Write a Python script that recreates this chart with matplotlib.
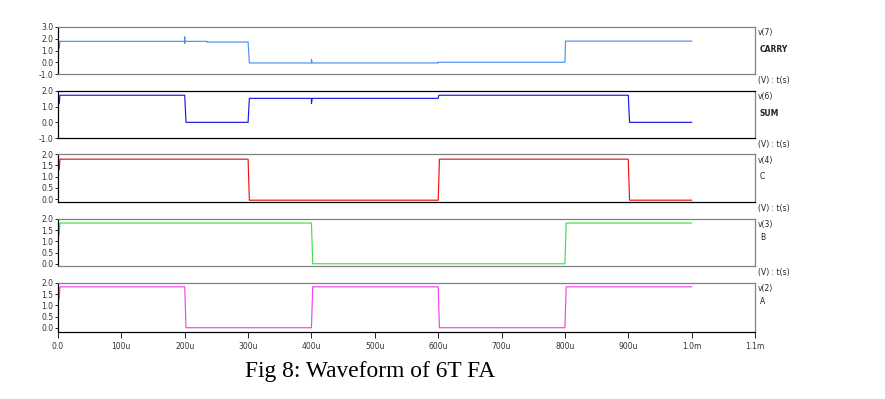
import matplotlib
matplotlib.use("Agg")
import matplotlib.pyplot as plt

# waveform vertices, time in microseconds, voltage in V
carry_t = [0, 0, 2, 3, 200, 200, 200, 200, 235, 235, 300, 302, 400, 400, 401, 600, 600, 800, 801, 1000]
carry_v = [0.0, 1.2, 1.2, 1.78, 1.78, 2.15, 1.6, 1.78, 1.78, 1.72, 1.72, -0.06, -0.06, 0.25, -0.06, -0.06, 0.0, 0.0, 1.8, 1.8]

sum_t = [0, 0, 2, 3, 200, 202, 300, 302, 400, 400, 401, 600, 601, 900, 902, 1000]
sum_v = [0.0, 1.2, 1.2, 1.73, 1.73, 0.0, 0.0, 1.53, 1.53, 1.2, 1.53, 1.53, 1.73, 1.73, 0.0, 0.0]

c_t = [0, 0, 2, 3, 300, 302, 600, 602, 900, 902, 1000]
c_v = [0.0, 1.3, 1.3, 1.77, 1.77, -0.05, -0.05, 1.77, 1.77, -0.05, -0.05]

b_t = [0, 0, 2, 3, 400, 402, 800, 802, 1000]
b_v = [0.0, 1.3, 1.3, 1.82, 1.82, 0.0, 0.0, 1.82, 1.82]

a_t = [0, 0, 2, 3, 200, 202, 400, 402, 600, 602, 800, 802, 1000]
a_v = [0.0, 1.3, 1.3, 1.83, 1.83, 0.01, 0.01, 1.83, 1.83, 0.01, 0.01, 1.83, 1.83]

node_names = ["v(7)", "v(6)", "v(4)", "v(3)", "v(2)"]
sig_names = ["CARRY", "SUM", "C", "B", "A"]
colors = ["#4d8ff0", "#1a1ae0", "#f01010", "#44e044", "#ee44ee"]
ylims = [(-1.0, 3.0), (-1.0, 2.0), (-0.13, 2.0), (-0.1, 2.0), (-0.18, 2.0)]
yticks = [[-1.0, 0.0, 1.0, 2.0, 3.0], [-1.0, 0.0, 1.0, 2.0],
          [0.0, 0.5, 1.0, 1.5, 2.0], [0.0, 0.5, 1.0, 1.5, 2.0], [0.0, 0.5, 1.0, 1.5, 2.0]]
xticks = [0, 100, 200, 300, 400, 500, 600, 700, 800, 900, 1000, 1100]
xtick_labels = ["0.0", "100u", "200u", "300u", "400u", "500u", "600u", "700u", "800u", "900u", "1.0m", "1.1m"]

series = [(carry_t, carry_v), (sum_t, sum_v), (c_t, c_v), (b_t, b_v), (a_t, a_v)]

W, H = 885, 399
fig = plt.figure(figsize=(W / 100, H / 100), dpi=100)

# panel pixel extents (top, bottom)
panels = [(27, 74), (91, 138), (154, 202), (219, 266), (283, 332)]
left_px, right_px = 58, 755

# which spines are black (rest grey)
black_spines = [[], ["top", "bottom"], ["bottom"], [], ["bottom"]]

for i, ((top, bot), (t, v)) in enumerate(zip(panels, series)):
    ax = fig.add_axes([left_px / W, 1 - bot / H, (right_px - left_px) / W, (bot - top) / H])
    ax.plot(t, v, color=colors[i], lw=0.85)
    ax.set_xlim(0, 1100)
    ax.set_ylim(*ylims[i])
    ax.set_yticks(yticks[i])
    ax.set_yticklabels(["%.1f" % y for y in yticks[i]])
    ax.tick_params(axis="y", labelsize=5.5, length=2, width=0.6, pad=1.5, labelcolor="#333333")
    for name, sp in ax.spines.items():
        sp.set_linewidth(0.9)
        sp.set_color("black" if (name in black_spines[i] or name == "left") else "#808080")
    ax.set_xticks(xticks)
    if i == 4:
        ax.set_xticklabels(xtick_labels)
        ax.tick_params(axis="x", labelsize=5.5, length=4, width=0.6, pad=3, labelcolor="#333333")
    else:
        ax.tick_params(axis="x", bottom=False, labelbottom=False)

    fig.text(758 / W, 1 - (top + 6) / H, node_names[i], fontsize=5.5, va="center", ha="left", color="#222222")
    fig.text(760 / W, 1 - (top + (23 if i < 3 else 19)) / H, sig_names[i], fontsize=5.5,
             va="center", ha="left", color="#222222", fontweight="bold" if i < 2 else "normal")
    if i < 4:
        fig.text(758 / W, 1 - (bot + 6) / H, "(V) : t(s)", fontsize=5.5, va="center", ha="left", color="#222222")

fig.text(245 / W, 1 - 372 / H, "Fig 8: Waveform of 6T FA", fontsize=16.8,
         family="Liberation Serif", va="center", ha="left")

fig.savefig("out.png", dpi=100)
